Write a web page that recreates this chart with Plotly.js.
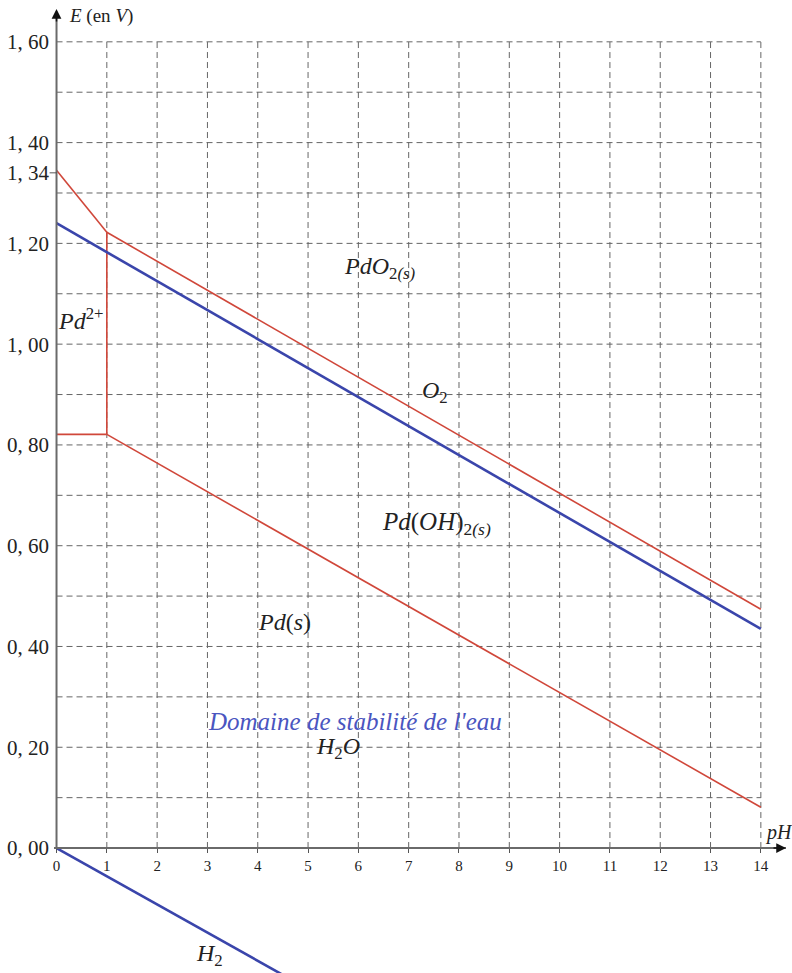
<!DOCTYPE html>
<html>
<head>
<meta charset="utf-8">
<script src="https://cdn.plot.ly/plotly-3.0.1.min.js"></script>
<style>html,body{margin:0;padding:0;background:#fff;}#chart{width:792px;height:973px;}</style>
</head>
<body>
<div id="chart"></div>
<script>
// ---- Data ----
const pHTicks = [0,1,2,3,4,5,6,7,8,9,10,11,12,13,14];
const gridX = [1,2,3,4,5,6,7,8,9,10,11,12,13,14];
const gridE = [0.1,0.2,0.3,0.4,0.5,0.6,0.7,0.8,0.9,1.0,1.1,1.2,1.3,1.4,1.5,1.6];
const eTickVals = [0,0.2,0.4,0.6,0.8,1.0,1.2,1.34,1.4,1.6];
const eTickText = ["0, 00","0, 20","0, 40","0, 60","0, 80","1, 00","1, 20","1, 34","1, 40","1, 60"];

// water stability lines (blue)
const pH_O2 = [0, 14];
const E_O2  = [1.24, 0.435];
const pH_H2 = [0, 4.7];
const E_H2  = [0, -0.263];

// palladium boundaries (red)
const pH_Pd2_PdO2 = [0, 1];
const E_Pd2_PdO2  = [1.345, 1.222];
const pH_PdO2_PdOH = [1, 14];
const E_PdO2_PdOH  = [1.222, 0.474];
const pH_Pd2_PdOH = [1, 1];
const E_Pd2_PdOH  = [0.821, 1.222];
const pH_Pd2_Pd = [0, 1];
const E_Pd2_Pd  = [0.821, 0.821];
const pH_PdOH_Pd = [1, 14];
const E_PdOH_Pd  = [0.821, 0.081];

const RED = '#d0473a';
const BLUE = '#3a45ab';
const SERIF = '"Liberation Serif", "DejaVu Serif", serif';

function line(x, y, color, w) {
  return {x: x, y: y, mode: 'lines', type: 'scatter', hoverinfo: 'skip',
          line: {color: color, width: w}, showlegend: false};
}

const traces = [
  line(pH_Pd2_PdO2, E_Pd2_PdO2, RED, 1.6),
  line(pH_PdO2_PdOH, E_PdO2_PdOH, RED, 1.6),
  line(pH_Pd2_PdOH, E_Pd2_PdOH, RED, 1.6),
  line(pH_Pd2_Pd, E_Pd2_Pd, RED, 1.6),
  line(pH_PdOH_Pd, E_PdOH_Pd, RED, 1.6),
  line(pH_O2, E_O2, BLUE, 2.6),
  line(pH_H2, E_H2, BLUE, 2.6)
];

const shapes = [];
const gridStyle = {color: '#666', width: 1, dash: '6px,4px'};
gridX.forEach(v => shapes.push({type: 'line', xref: 'x', yref: 'y', x0: v, x1: v, y0: 0, y1: 1.6, line: gridStyle, layer: 'below'}));
gridE.forEach(v => shapes.push({type: 'line', xref: 'x', yref: 'y', x0: 0, x1: 14, y0: v, y1: v, line: gridStyle, layer: 'below'}));
// y axis line
shapes.push({type: 'line', xref: 'x', yref: 'y', x0: 0, x1: 0, y0: 0, y1: 1.655, line: {color: '#6a6a6a', width: 2}});
// small tick at 1.34
shapes.push({type: 'line', xref: 'paper', yref: 'y', x0: -0.006, x1: 0.004, y0: 1.34, y1: 1.34, line: {color: '#555', width: 1}});

const it = s => '<i>' + s + '</i>';
const annFont = {family: SERIF, size: 24, color: '#222'};
const annotations = [
  // axis arrows
  {x: 14.5, y: 0, xref: 'x', yref: 'y', showarrow: true, ax: -14, ay: 0, arrowhead: 2, arrowsize: 1.3, arrowwidth: 1.5, arrowcolor: '#111', text: ''},
  {x: 0, y: 1.665, xref: 'x', yref: 'y', showarrow: true, ax: 0, ay: 14, arrowhead: 2, arrowsize: 1.3, arrowwidth: 1.5, arrowcolor: '#111', text: ''},
  {x: 0.2, y: 1.652, xanchor: 'left', text: it('E') + ' (en ' + it('V') + ')', font: {family: SERIF, size: 19, color: '#222'}, showarrow: false},
  {x: 14.36, y: 0.03, text: it('pH'), font: {family: SERIF, size: 20, color: '#222'}, showarrow: false},
  {x: -0.07, y: 1.258, xanchor: 'right', text: '1,23', font: {family: SERIF, size: 18, color: '#4a55c0'}, showarrow: false},
  {x: 6.43, y: 1.151, text: it('PdO') + '<sub>2' + it('(s)') + '</sub>', font: annFont, showarrow: false},
  {x: 7.52, y: 0.905, text: it('O') + '<sub>2</sub>', font: annFont, showarrow: false},
  {x: 0.48, y: 1.05, text: it('Pd') + '<sup>2+</sup>', font: annFont, showarrow: false},
  {x: 7.55, y: 0.645, text: it('Pd') + '(' + it('OH') + ')<sub>2' + it('(s)') + '</sub>', font: {family: SERIF, size: 25, color: '#222'}, showarrow: false},
  {x: 4.54, y: 0.449, text: it('Pd') + '(' + it('s') + ')', font: annFont, showarrow: false},
  {x: 5.93, y: 0.252, text: it("Domaine de stabilité de l'eau"), font: {family: SERIF, size: 25, color: '#4a55c0'}, showarrow: false},
  {x: 5.6, y: 0.198, text: it('H') + '<sub>2</sub>' + it('O'), font: annFont, showarrow: false},
  {x: 3.05, y: -0.212, text: it('H') + '<sub>2</sub>', font: annFont, showarrow: false}
];

const layout = {
  width: 792, height: 973,
  margin: {l: 54, r: 6, t: 0, b: 0},
  paper_bgcolor: '#fff', plot_bgcolor: '#fff',
  showlegend: false,
  xaxis: {
    range: [-0.05, 14.5], showgrid: false, zeroline: false,
    anchor: 'free', position: 0.248 / 1.931,
    showline: true, linecolor: '#6a6a6a', linewidth: 2,
    tickvals: pHTicks, ticktext: pHTicks.map(String),
    ticks: 'outside', ticklen: 4, tickcolor: '#555', tickwidth: 1,
    tickfont: {family: SERIF, size: 15, color: '#222'}
  },
  yaxis: {
    range: [-0.248, 1.683], showgrid: false, zeroline: false, showline: false,
    tickvals: eTickVals, ticktext: eTickText, ticks: '',
    ticklabelstandoff: 4,
    tickfont: {family: SERIF, size: 21, color: '#222'}
  },
  shapes: shapes,
  annotations: annotations
};

Plotly.newPlot('chart', traces, layout, {displayModeBar: false, staticPlot: true});
</script>
</body>
</html>
